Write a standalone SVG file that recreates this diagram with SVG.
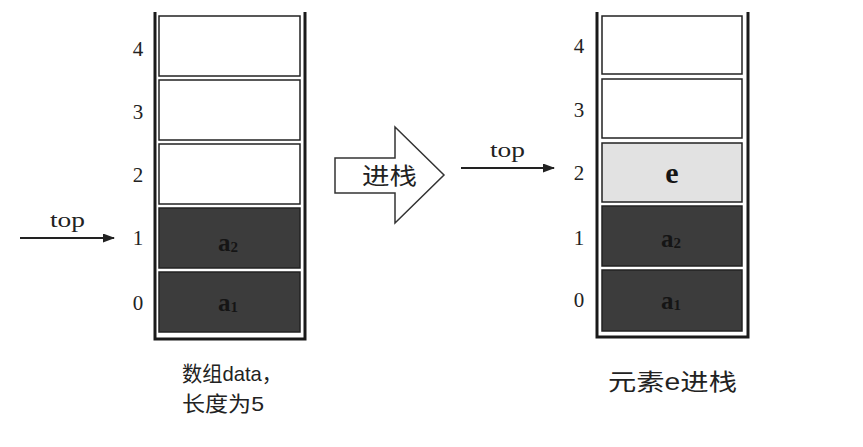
<svg xmlns="http://www.w3.org/2000/svg" width="863" height="447" viewBox="0 0 863 447">
<style>
.wall{fill:none;stroke:#1a1a1a;stroke-width:3}
.cell{stroke:#222;stroke-width:1.5}
.empty{fill:#fff}
.dark{fill:#3c3c3c}
.light{fill:#e2e2e2}
.idx{font-family:"Liberation Serif",serif;font-size:21px;fill:#222;text-anchor:middle;dominant-baseline:central}
.val{font-family:"Liberation Serif",serif;font-size:25px;font-weight:bold;fill:#151515;text-anchor:middle;dominant-baseline:central}
.sub{font-size:15px}
.lbl{font-family:"Liberation Serif",serif;font-size:21px;fill:#222}
.cap{font-family:"Liberation Sans","Noto Sans CJK SC",sans-serif;font-size:21px;fill:#222}
.conn{stroke:#222;stroke-width:1.8;fill:none}
</style>
<defs>
<marker id="ah" markerWidth="12" markerHeight="9" refX="11" refY="4.5" orient="auto" markerUnits="userSpaceOnUse">
<path d="M0,0 L12,4.5 L0,9 Z" fill="#222"/>
</marker>
</defs>
<rect width="863" height="447" fill="#fff"/>

<g id="stack-left">
<path class="wall" d="M155,12 V339 H305 V12"/>
<rect id="L4" class="cell empty" x="159" y="16" width="141" height="60"/>
<rect id="L3" class="cell empty" x="159" y="80" width="141" height="60"/>
<rect id="L2" class="cell empty" x="159" y="144" width="141" height="60"/>
<rect id="L1" class="cell dark" x="159" y="208" width="141" height="60"/>
<rect id="L0" class="cell dark" x="159" y="272" width="141" height="60"/>
<text class="val" x="228" y="242">a<tspan class="sub" dy="5">2</tspan></text>
<text class="val" x="228" y="302">a<tspan class="sub" dy="5">1</tspan></text>
<text class="idx" x="138" y="49">4</text>
<text class="idx" x="138" y="112">3</text>
<text class="idx" x="138" y="175">2</text>
<text class="idx" x="138" y="238">1</text>
<text class="idx" x="138" y="303">0</text>
</g>

<g id="stack-right">
<path class="wall" d="M597,12 V337 H748 V12"/>
<rect id="R4" class="cell empty" x="602" y="16" width="140" height="58"/>
<rect id="R3" class="cell empty" x="602" y="79" width="140" height="59"/>
<rect id="R2" class="cell light" x="602" y="143" width="140" height="59"/>
<rect id="R1" class="cell dark" x="602" y="206" width="140" height="60"/>
<rect id="R0" class="cell dark" x="602" y="270" width="140" height="61"/>
<text class="val" x="672" y="172" style="font-size:30px">e</text>
<text class="val" x="671" y="238">a<tspan class="sub" dy="5">2</tspan></text>
<text class="val" x="671" y="300">a<tspan class="sub" dy="5">1</tspan></text>
<text class="idx" x="579" y="46">4</text>
<text class="idx" x="579" y="110">3</text>
<text class="idx" x="579" y="173">2</text>
<text class="idx" x="579" y="238">1</text>
<text class="idx" x="579" y="300">0</text>
</g>

<g id="push-arrow">
<path d="M335,158 H395 V127 L444,175 L395,223 V193 H335 Z" fill="#fff" stroke="#333" stroke-width="1.5"/>
<text class="cap" x="362" y="184" style="font-size:23px" textLength="55" lengthAdjust="spacingAndGlyphs">进栈</text>
</g>

<g id="connectors">
<line class="conn" x1="20" y1="238" x2="114" y2="238" marker-end="url(#ah)"/>
<line class="conn" x1="461" y1="168" x2="554" y2="168" marker-end="url(#ah)"/>
</g>

<g id="labels">
<text class="lbl" x="50" y="227" textLength="35" lengthAdjust="spacingAndGlyphs">top</text>
<text class="lbl" x="490" y="157" textLength="35" lengthAdjust="spacingAndGlyphs">top</text>
<text class="cap" x="182" y="381" textLength="100" lengthAdjust="spacingAndGlyphs">数组data，</text>
<text class="cap" x="182" y="411" textLength="82" lengthAdjust="spacingAndGlyphs">长度为5</text>
<text class="cap" x="608" y="390" style="font-size:23px" textLength="129" lengthAdjust="spacingAndGlyphs">元素e进栈</text>
</g>
</svg>
